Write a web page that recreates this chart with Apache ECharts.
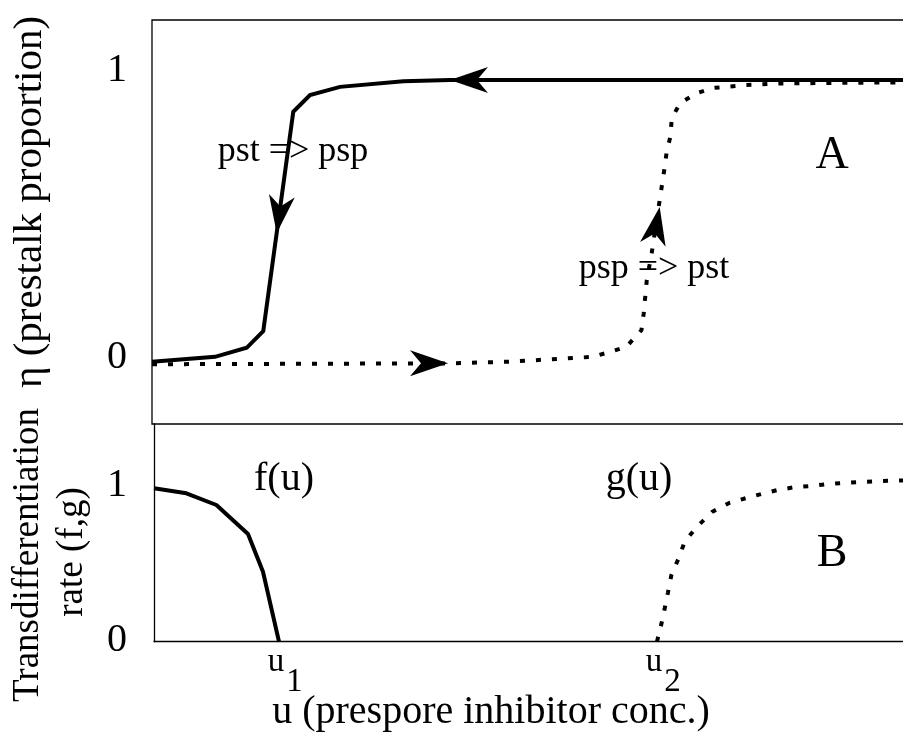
<!DOCTYPE html>
<html>
<head>
<meta charset="utf-8">
<script src="https://cdn.jsdelivr.net/npm/echarts@6/dist/echarts.min.js"></script>
<style>
html,body{margin:0;padding:0;background:#fff;}
#chart{width:903px;height:744px;}
</style>
</head>
<body>
<div id="chart"></div>
<script>
// ---- Data (u in arbitrary units 0..100) ----
// Panel A: solid branch (pst => psp)
var pstToPspU   = [0, 8.29, 12.46, 14.64, 18.59, 20.79, 24.74, 33.07, 39.21, 100];
var pstToPspEta = [0.006, 0.023, 0.055, 0.114, 0.888, 0.947, 0.976, 0.996, 1.0, 1.0];
// Panel A: dotted branch (psp => pst)
var pspToPstU   = [0, 38.95, 47.1, 58.0, 60.3, 62.4, 64.4, 64.7, 65.1, 65.75, 66.8, 67.4, 67.7, 68.2, 68.4, 69.5, 71.7, 73.8, 78.0, 82.6, 89.6, 100];
var pspToPstEta = [-0.003, 0.0, 0.006, 0.023, 0.041, 0.058, 0.117, 0.177, 0.293, 0.389, 0.576, 0.682, 0.742, 0.8, 0.866, 0.919, 0.954, 0.972, 0.982, 0.988, 0.99, 0.992];
// Arrow heads on panel A: tip (u, eta) and a point behind it on the path
var arrowTipU   = [39.21, 38.95, 16.41, 66.8];
var arrowTipEta = [1.0, 0.0, 0.459, 0.552];
var arrowFromU  = [60, 20, 18.59, 65.96];
var arrowFromEta= [1.0, 0.0, 0.888, 0.429];
// Panel B: f(u) (solid) and g(u) (dotted)
var fU = [0, 4.26, 8.21, 12.37, 14.34, 16.45];
var fRate = [1.0, 0.967, 0.891, 0.702, 0.456, 0.0];
var gU = [66.18, 66.76, 67.2, 67.63, 68.08, 68.99, 69.83, 71.45, 73.47, 75.75, 77.86, 79.92, 82.1, 84.3, 86.5, 88.47, 90.66, 92.86, 95.05, 97.24, 100];
var gRate = [0.0, 0.115, 0.218, 0.322, 0.435, 0.539, 0.652, 0.750, 0.847, 0.906, 0.935, 0.963, 0.989, 1.007, 1.015, 1.026, 1.035, 1.041, 1.046, 1.05, 1.052];
// Tick labels
var xTickValues = [16.45, 66.18];
var xTickBase = ['u', 'u'];
var xTickSub = ['1', '2'];
var yTickValues = [0, 1];
var yTickLabels = ['0', '1'];

var SERIF = '"Liberation Serif","Times New Roman",Times,serif';

function zip(a, b) { return a.map(function (v, i) { return [v, b[i]]; }); }
var arrowData = arrowTipU.map(function (u, i) {
  return [u, arrowTipEta[i], arrowFromU[i], arrowFromEta[i]];
});
function yLabel(v) {
  var i = yTickValues.indexOf(+v);
  return i < 0 ? '' : '{n' + i + '|' + yTickLabels[i] + '}';
}
function numStyle(padBottom) {
  return {fontFamily: SERIF, fontSize: 40, color: '#000', lineHeight: 40, padding: [0, 0, padBottom, 0]};
}

var chart = echarts.init(document.getElementById('chart'), null, {renderer: 'canvas'});
var option = {
  animation: false,
  backgroundColor: '#fff',
  grid: [
    {left: 152, top: 20, width: 760, height: 404, show: true, borderColor: '#000', borderWidth: 1.3,
      backgroundColor: 'transparent', containLabel: false, outerBoundsMode: 'none'},
    {left: 154, top: 424, width: 760, height: 217.7, show: false, containLabel: false, outerBoundsMode: 'none'}
  ],
  xAxis: [
    {gridIndex: 0, type: 'value', min: 0, max: 100, show: false},
    {gridIndex: 1, type: 'value', min: 0, max: 100,
      axisLine: {show: true, onZero: false, lineStyle: {color: '#000', width: 1.3}},
      axisTick: {show: false}, splitLine: {show: false},
      axisLabel: {show: false}
    }
  ],
  yAxis: [
    {gridIndex: 0, type: 'value', min: -0.214, max: 1.212,
      axisLine: {show: false}, axisTick: {show: false}, splitLine: {show: false},
      axisLabel: {customValues: yTickValues, margin: 25, fontFamily: SERIF, fontSize: 40, color: '#000',
        formatter: yLabel, rich: {n0: numStyle(12), n1: numStyle(20)}}
    },
    {gridIndex: 1, type: 'value', min: 0, max: 1.419,
      axisLine: {show: true, onZero: false, lineStyle: {color: '#000', width: 1.3}},
      axisTick: {show: false}, splitLine: {show: false},
      axisLabel: {customValues: yTickValues, margin: 27, fontFamily: SERIF, fontSize: 40, color: '#000',
        formatter: yLabel, rich: {n0: numStyle(2), n1: numStyle(6)}}
    }
  ],
  series: [
    {type: 'line', xAxisIndex: 0, yAxisIndex: 0, data: zip(pstToPspU, pstToPspEta),
      showSymbol: false, symbol: 'none', clip: true,
      lineStyle: {color: '#000', width: 4, join: 'miter'}},
    {type: 'line', xAxisIndex: 0, yAxisIndex: 0, data: zip(pspToPstU, pspToPstEta),
      showSymbol: false, symbol: 'none', clip: true,
      lineStyle: {color: '#000', width: 4, type: [5, 11], cap: 'butt'}},
    {type: 'custom', xAxisIndex: 0, yAxisIndex: 0, data: arrowData,
      encode: {x: 0, y: 1},
      renderItem: function (params, api) {
        var tip = api.coord([api.value(0), api.value(1)]);
        var from = api.coord([api.value(2), api.value(3)]);
        var dx = tip[0] - from[0], dy = tip[1] - from[1];
        var len = Math.sqrt(dx * dx + dy * dy) || 1;
        var ux = dx / len, uy = dy / len, px = -uy, py = ux;
        var L = 38, W = 13, N = 27;
        return {
          type: 'polygon',
          shape: {points: [
            tip,
            [tip[0] - ux * L + px * W, tip[1] - uy * L + py * W],
            [tip[0] - ux * N, tip[1] - uy * N],
            [tip[0] - ux * L - px * W, tip[1] - uy * L - py * W]
          ]},
          style: {fill: '#000'}
        };
      }
    },
    {type: 'line', xAxisIndex: 1, yAxisIndex: 1, data: zip(fU, fRate),
      showSymbol: false, symbol: 'none',
      lineStyle: {color: '#000', width: 4}},
    {type: 'line', xAxisIndex: 1, yAxisIndex: 1, data: zip(gU, gRate),
      showSymbol: false, symbol: 'none',
      lineStyle: {color: '#000', width: 4, type: [5, 11], cap: 'butt'}},
    // x tick labels u1, u2 placed at their axis values (anchored by the axis scale)
    {type: 'custom', xAxisIndex: 1, yAxisIndex: 1, clip: false, silent: true,
      data: xTickValues.map(function (v, i) { return [v, 0, i]; }),
      encode: {x: 0, y: 1},
      renderItem: function (params, api) {
        var p = api.coord([api.value(0), api.value(1)]);
        var i = api.value(2);
        return {
          type: 'group',
          children: [
            {type: 'text', x: p[0] - 3, y: p[1] + 4,
              style: {text: xTickBase[i], font: '33px ' + SERIF, fill: '#000', align: 'center', verticalAlign: 'top'}},
            {type: 'text', x: p[0] + 15.5, y: p[1] + 24,
              style: {text: xTickSub[i], font: '33px ' + SERIF, fill: '#000', align: 'center', verticalAlign: 'top'}}
          ]
        };
      }
    }
  ],
  graphic: [
    {type: 'text', x: 30, y: 202, rotation: Math.PI / 2,
      style: {text: 'η (prestalk proportion)', font: '41px ' + SERIF, fill: '#000', align: 'center', verticalAlign: 'middle'}},
    {type: 'text', x: 28, y: 555, rotation: Math.PI / 2,
      style: {text: 'Transdifferentiation', font: '37px ' + SERIF, fill: '#000', align: 'center', verticalAlign: 'middle'}},
    {type: 'text', x: 72, y: 552, rotation: Math.PI / 2,
      style: {text: 'rate (f,g)', font: '37px ' + SERIF, fill: '#000', align: 'center', verticalAlign: 'middle'}},
    {type: 'text', x: 293, y: 152,
      style: {text: 'pst => psp', font: '36px ' + SERIF, fill: '#000', align: 'center', verticalAlign: 'middle'}},
    {type: 'text', x: 654, y: 269,
      style: {text: 'psp => pst', font: '36px ' + SERIF, fill: '#000', align: 'center', verticalAlign: 'middle'}},
    {type: 'text', x: 832, y: 156,
      style: {text: 'A', font: '46px ' + SERIF, fill: '#000', align: 'center', verticalAlign: 'middle'}},
    {type: 'text', x: 284, y: 479,
      style: {text: 'f(u)', font: '40px ' + SERIF, fill: '#000', align: 'center', verticalAlign: 'middle'}},
    {type: 'text', x: 639, y: 479,
      style: {text: 'g(u)', font: '40px ' + SERIF, fill: '#000', align: 'center', verticalAlign: 'middle'}},
    {type: 'text', x: 832, y: 554,
      style: {text: 'B', font: '46px ' + SERIF, fill: '#000', align: 'center', verticalAlign: 'middle'}},
    {type: 'text', x: 491, y: 712,
      style: {text: 'u (prespore inhibitor conc.)', font: '40px ' + SERIF, fill: '#000', align: 'center', verticalAlign: 'middle'}}
  ]
};
chart.setOption(option);
</script>
</body>
</html>
